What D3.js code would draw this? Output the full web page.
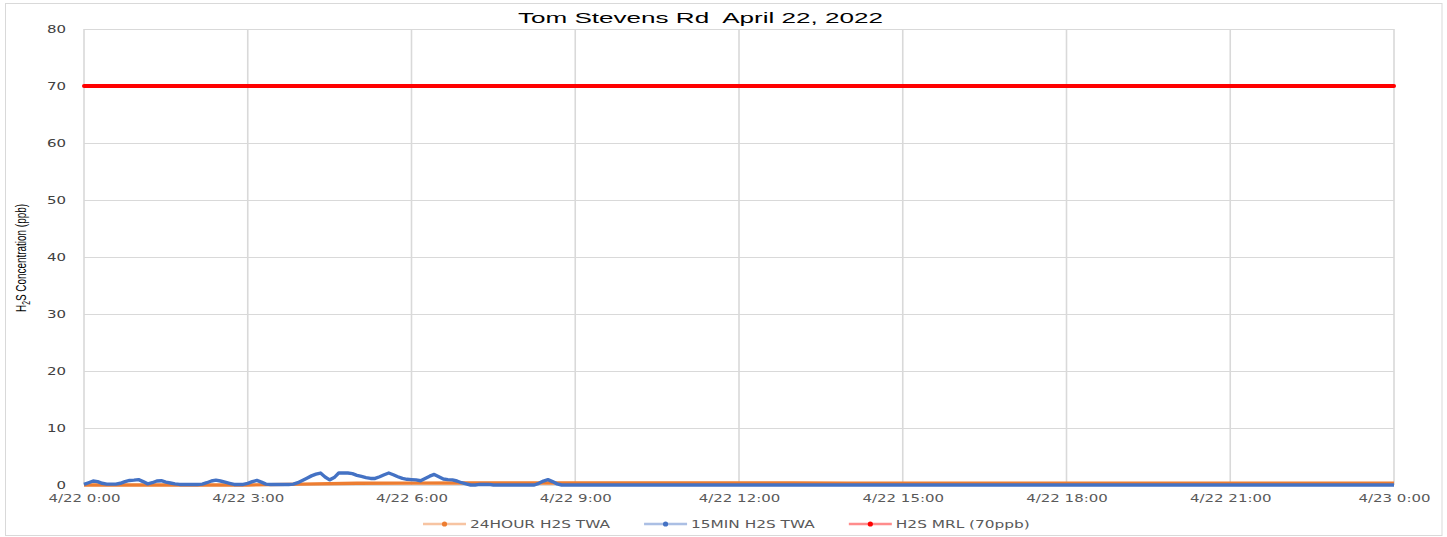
<!DOCTYPE html>
<html>
<head>
<meta charset="utf-8">
<script src="https://cdn.jsdelivr.net/npm/d3@7"></script>
<style>
  html, body { margin: 0; padding: 0; background: #fff; }
  svg { display: block; }
</style>
</head>
<body>
<script>
// ---------------- DATA ----------------
const chartTitle = "Tom Stevens Rd  April 22, 2022";
const yTicks = [0, 10, 20, 30, 40, 50, 60, 70, 80];
const xTickHours = [0, 3, 6, 9, 12, 15, 18, 21, 24];
const xTickLabels = ["4/22 0:00", "4/22 3:00", "4/22 6:00", "4/22 9:00", "4/22 12:00",
                     "4/22 15:00", "4/22 18:00", "4/22 21:00", "4/23 0:00"];
const seriesNames = ["24HOUR H2S TWA", "15MIN H2S TWA", "H2S MRL (70ppb)"];

// 15MIN H2S TWA, one reading every 5 minutes from 4/22 0:00 to 4/23 0:00 (ppb)
const twa15min = [
  0.1, 0.4, 0.7, 0.6, 0.3, 0.15, 0.15, 0.15, 0.3, 0.6, 0.8, 0.85,       // 0:00
  0.95, 0.6, 0.2, 0.4, 0.7, 0.75, 0.5, 0.35, 0.2, 0.1, 0.1, 0.1,        // 1:00
  0.1, 0.1, 0.15, 0.4, 0.7, 0.85, 0.7, 0.5, 0.3, 0.1, 0.1, 0.1,         // 2:00
  0.3, 0.6, 0.8, 0.5, 0.15, 0.1, 0.1, 0.1, 0.1, 0.1, 0.15, 0.4,         // 3:00
  0.8, 1.2, 1.6, 1.9, 2.1, 1.4, 0.9, 1.3, 2.1, 2.1, 2.1, 2.0,           // 4:00
  1.7, 1.5, 1.3, 1.15, 1.15, 1.45, 1.8, 2.1, 1.8, 1.45, 1.15, 1.0,      // 5:00
  0.95, 0.9, 0.75, 1.15, 1.55, 1.85, 1.45, 1.05, 0.95, 0.9, 0.7, 0.4,   // 6:00
  0.2, 0, 0, 0.1, 0.1, 0.1, 0, 0, 0, 0, 0, 0,                           // 7:00
  0, 0, 0, 0, 0.3, 0.7, 0.95, 0.6, 0.2, 0, 0, 0,                        // 8:00
  0, 0, 0, 0, 0, 0, 0, 0, 0, 0, 0, 0,                                   // 9:00
  0, 0, 0, 0, 0, 0, 0, 0, 0, 0, 0, 0,                                   // 10:00
  0, 0, 0, 0, 0, 0, 0, 0, 0, 0, 0, 0,                                   // 11:00
  0, 0, 0, 0, 0, 0, 0, 0, 0, 0, 0, 0,                                   // 12:00
  0, 0, 0, 0, 0, 0, 0, 0, 0, 0, 0, 0,                                   // 13:00
  0, 0, 0, 0, 0, 0, 0, 0, 0, 0, 0, 0,                                   // 14:00
  0, 0, 0, 0, 0, 0, 0, 0, 0, 0, 0, 0,                                   // 15:00
  0, 0, 0, 0, 0, 0, 0, 0, 0, 0, 0, 0,                                   // 16:00
  0, 0, 0, 0, 0, 0, 0, 0, 0, 0, 0, 0,                                   // 17:00
  0, 0, 0, 0, 0, 0, 0, 0, 0, 0, 0, 0,                                   // 18:00
  0, 0, 0, 0, 0, 0, 0, 0, 0, 0, 0, 0,                                   // 19:00
  0, 0, 0, 0, 0, 0, 0, 0, 0, 0, 0, 0,                                   // 20:00
  0, 0, 0, 0, 0, 0, 0, 0, 0, 0, 0, 0,                                   // 21:00
  0, 0, 0, 0, 0, 0, 0, 0, 0, 0, 0, 0,                                   // 22:00
  0, 0, 0, 0, 0, 0, 0, 0, 0, 0, 0, 0,                                   // 23:00
  0                                                                     // 4/23 0:00
];
const minutesPerReading15 = 5;

// 24HOUR H2S TWA, hourly from 4/22 0:00 to 4/23 0:00 (ppb)
const twa24hour = [0, 0, 0, 0, 0.15, 0.3, 0.33, 0.35, 0.35, 0.35, 0.35, 0.34, 0.34,
                   0.34, 0.33, 0.33, 0.33, 0.33, 0.32, 0.32, 0.32, 0.32, 0.32, 0.32, 0.32];
// H2S MRL, hourly (ppb)
const mrl = [70, 70, 70, 70, 70, 70, 70, 70, 70, 70, 70, 70, 70,
             70, 70, 70, 70, 70, 70, 70, 70, 70, 70, 70, 70];

// ---------------- LAYOUT / STYLE ----------------
const W = 1447, H = 537;
const plot = { left: 84, right: 1394, top: 29, bottom: 485 };
const colors = { orange: "#ED7D31", blue: "#4472C4", red: "#FF0000" };
const textStretch = 1.36;

const svg = d3.select("body").append("svg").attr("width", W).attr("height", H);

// chart border
svg.append("rect").attr("x", 5.5).attr("y", 3.5).attr("width", 1436.5).attr("height", 532)
  .attr("fill", "#fff").attr("stroke", "#d9d9d9").attr("stroke-width", 1);

const x = d3.scaleLinear().domain([0, 24]).range([plot.left, plot.right]);
const y = d3.scaleLinear().domain([0, 80]).range([plot.bottom, plot.top]);

// gridlines
svg.append("g").selectAll("line").data(yTicks).join("line")
  .attr("x1", plot.left).attr("x2", plot.right)
  .attr("y1", d => Math.round(y(d)) + 0.5).attr("y2", d => Math.round(y(d)) + 0.5)
  .attr("stroke", "#d9d9d9").attr("stroke-width", 1);
svg.append("g").selectAll("line").data(xTickHours).join("line")
  .attr("x1", d => x(d)).attr("x2", d => x(d))
  .attr("y1", plot.top).attr("y2", plot.bottom)
  .attr("stroke", "#d9d9d9").attr("stroke-width", 1.6);

// axes
const yAxis = svg.append("g").attr("transform", `translate(${plot.left},0)`)
  .call(d3.axisLeft(y).tickValues(yTicks).tickSize(0).tickPadding(18).tickFormat(d3.format("d")));
yAxis.select(".domain").remove();
yAxis.selectAll("text")
  .attr("x", -18 / textStretch)
  .attr("transform", `scale(${textStretch},1)`)
  .attr("font-family", "DejaVu Sans").attr("font-size", 11).attr("fill", "#404040");

const xAxis = svg.append("g").attr("transform", `translate(0,${plot.bottom})`)
  .call(d3.axisBottom(x).tickValues(xTickHours).tickSize(0).tickPadding(9)
        .tickFormat((d, i) => xTickLabels[i]));
xAxis.select(".domain").remove();
xAxis.selectAll("text")
  .attr("transform", `scale(${textStretch},1)`)
  .attr("font-family", "DejaVu Sans").attr("font-size", 11).attr("fill", "#595959");

// series
const orangeData = twa24hour.map((v, i) => ({ t: i, v }));
const blueData = twa15min.map((v, i) => ({ t: i * minutesPerReading15 / 60, v }));
const redData = mrl.map((v, i) => ({ t: i, v }));
const line = d3.line().x(d => x(d.t)).y(d => y(d.v));

svg.append("path").datum(orangeData).attr("d", line)
  .attr("fill", "none").attr("stroke", colors.orange).attr("stroke-width", 3.4)
  .attr("stroke-linejoin", "round");
svg.append("path").datum(blueData).attr("d", line)
  .attr("fill", "none").attr("stroke", colors.blue).attr("stroke-width", 3.4)
  .attr("stroke-linejoin", "round");
svg.append("path").datum(redData).attr("d", line)
  .attr("fill", "none").attr("stroke", colors.red).attr("stroke-width", 4)
  .attr("stroke-linecap", "round").attr("stroke-linejoin", "round");

// title
svg.append("text")
  .attr("x", 700.5).attr("y", 23.3)
  .attr("text-anchor", "middle")
  .attr("font-family", "Liberation Sans Narrow, Liberation Sans, Arial, sans-serif")
  .attr("font-size", 15).attr("fill", "#000")
  .attr("textLength", 365).attr("lengthAdjust", "spacingAndGlyphs")
  .style("white-space", "pre")
  .text(chartTitle);

// y axis title
const yt = svg.append("text")
  .attr("transform", `translate(21,258) scale(${textStretch},1) rotate(-90)`)
  .attr("text-anchor", "middle").attr("dy", "0.35em")
  .attr("font-family", "Liberation Sans Narrow, Liberation Sans, Arial, sans-serif")
  .attr("font-size", 11).attr("fill", "#000")
  .attr("textLength", 108).attr("lengthAdjust", "spacingAndGlyphs");
yt.append("tspan").text("H");
yt.append("tspan").attr("font-size", 7.5).attr("dy", "2.5").text("2");
yt.append("tspan").attr("dy", "-2.5").text("S Concentration (ppb)");

// legend
const legendColors = [colors.orange, colors.blue, colors.red];
let lx = 423;
const ly = 524;
seriesNames.forEach((name, i) => {
  const g = svg.append("g");
  g.append("line").attr("x1", lx).attr("x2", lx + 43).attr("y1", ly).attr("y2", ly)
    .attr("stroke", legendColors[i]).attr("stroke-width", 2.4).attr("stroke-opacity", 0.45);
  g.append("circle").attr("cx", lx + 21.5).attr("cy", ly).attr("r", 2.6).attr("fill", legendColors[i]);
  const t = g.append("text").attr("x", (lx + 47) / textStretch).attr("y", ly).attr("dy", "0.36em")
    .attr("transform", `scale(${textStretch},1)`)
    .attr("font-family", "DejaVu Sans").attr("font-size", 11.3).attr("fill", "#595959")
    .text(name);
  const w = t.node().getComputedTextLength() * textStretch;
  lx = lx + 47 + w + 34;
});
</script>
</body>
</html>
